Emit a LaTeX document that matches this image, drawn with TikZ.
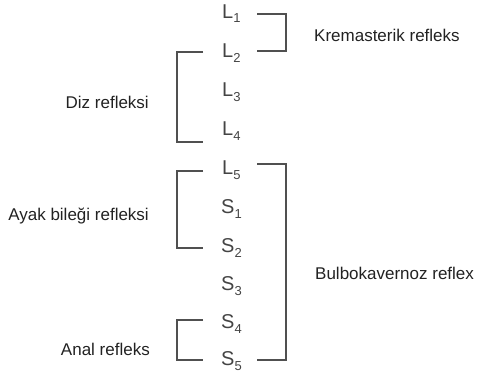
\documentclass[tikz,border=0pt]{standalone}
\usepackage{fontspec}
\setmainfont{Liberation Sans}
\definecolor{txt}{HTML}{222222}
\definecolor{seg}{HTML}{444444}
\definecolor{brk}{HTML}{505050}
\newcommand{\segl}[2]{#1\raisebox{-5pt}{\fontsize{13}{13}\selectfont #2}}
\begin{document}
\begin{tikzpicture}[x=1pt,y=-1pt,
  seglabel/.style={anchor=base west,inner sep=0pt,text=seg,font=\fontsize{20}{20}\selectfont},
  sidelabel/.style={inner sep=0pt,text=txt,font=\fontsize{17}{18}\selectfont},
  bracket/.style={draw=brk,line width=1.2pt}]
\useasboundingbox (0,0) rectangle (482,372);
% segment labels
\node[seglabel] (L1) at (222,18) {\segl{L}{1}};
\node[seglabel] (L2) at (222,57) {\segl{L}{2}};
\node[seglabel] (L3) at (222,96) {\segl{L}{3}};
\node[seglabel] (L4) at (222,135) {\segl{L}{4}};
\node[seglabel] (L5) at (222,174) {\segl{L}{5}};
\node[seglabel] (S1) at (221,213) {\segl{S}{1}};
\node[seglabel] (S2) at (221,252) {\segl{S}{2}};
\node[seglabel] (S3) at (221,290) {\segl{S}{3}};
\node[seglabel] (S4) at (221,328) {\segl{S}{4}};
\node[seglabel] (S5) at (221,365) {\segl{S}{5}};
% reflex labels
\node[sidelabel,anchor=base west] (krem) at (314,41) {Kremasterik refleks};
\node[sidelabel,anchor=base east] (diz) at (149,108) {Diz refleksi};
\node[sidelabel,anchor=base east] (ayak) at (149,220) {Ayak bileği refleksi};
\node[sidelabel,anchor=base west] (bulbo) at (315,279) {Bulbokavernoz reflex};
\node[sidelabel,anchor=base east] (anal) at (150,355) {Anal refleks};
% brackets
\coordinate (k1) at (257,14); \coordinate (k2) at (257,51);
\draw[bracket] (k1) -- (286,14) -- (286,51) -- (k2);
\coordinate (d1) at (203,52); \coordinate (d2) at (203,142);
\draw[bracket] (d1) -- (177,52) -- (177,142) -- (d2);
\coordinate (b1) at (257,164); \coordinate (b2) at (257,360);
\draw[bracket] (b1) -- (286,164) -- (286,360) -- (b2);
\coordinate (a1) at (203,171); \coordinate (a2) at (203,248);
\draw[bracket] (a1) -- (177,171) -- (177,248) -- (a2);
\coordinate (n1) at (203,320); \coordinate (n2) at (203,360);
\draw[bracket] (n1) -- (177,320) -- (177,360) -- (n2);
\end{tikzpicture}
\end{document}
